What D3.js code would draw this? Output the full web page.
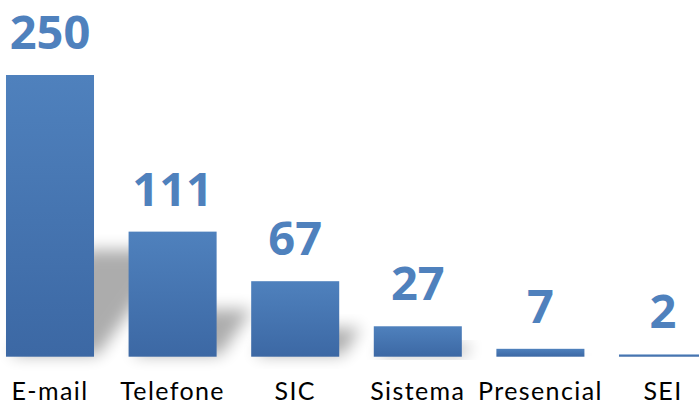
<!DOCTYPE html>
<html>
<head>
<meta charset="utf-8">
<script src="https://cdn.jsdelivr.net/npm/d3@7"></script>
<style>
  body { margin: 0; background: #fff; }
  svg { display: block; }
</style>
</head>
<body>
<div id="chart"></div>
<script>
// Chart data
const categories = ["E-mail", "Telefone", "SIC", "Sistema", "Presencial", "SEI"];
const values = [250, 111, 67, 27, 7, 2];

const width = 699;
const height = 405;
const baseline = 356.7;

const svg = d3.select("#chart")
    .append("svg")
    .attr("width", width)
    .attr("height", height);

const defs = svg.append("defs");

// Vertical gradient for the bars
const grad = defs.append("linearGradient")
    .attr("id", "barGrad")
    .attr("x1", 0).attr("y1", 0)
    .attr("x2", 0).attr("y2", 1);
grad.append("stop").attr("offset", "0%").attr("stop-color", "#4f81bd");
grad.append("stop").attr("offset", "100%").attr("stop-color", "#3c68a4");

// Blur for the perspective shadow
defs.append("filter")
    .attr("id", "shadowBlur")
    .attr("x", "-50%").attr("y", "-50%")
    .attr("width", "200%").attr("height", "200%")
    .append("feGaussianBlur")
    .attr("stdDeviation", 8);

const x = d3.scaleBand()
    .domain(categories)
    .range([-11.3, 724.3])
    .paddingInner(0.282)
    .paddingOuter(0.141);

const y = d3.scaleLinear()
    .domain([0, 250])
    .range([baseline, 75]);

// Shadows, cast to the upper right
svg.append("g")
    .selectAll("polygon")
    .data(values)
    .enter()
    .append("polygon")
    .attr("points", (d, i) => {
        const x0 = x(categories[i]);
        const x1 = x0 + x.bandwidth();
        const h = (baseline - y(d)) * 0.38;
        const dx = h * 0.75;
        return [[x0 + 4, baseline - 2], [x1 + 4, baseline - 2], [x1 + dx, baseline - h], [x0 + dx, baseline - h]].join(" ");
    })
    .attr("fill", "#000")
    .attr("opacity", 0.32)
    .attr("filter", "url(#shadowBlur)");

// Bars
svg.append("g")
    .selectAll("rect")
    .data(values)
    .enter()
    .append("rect")
    .attr("x", (d, i) => x(categories[i]))
    .attr("y", d => y(d))
    .attr("width", x.bandwidth())
    .attr("height", d => baseline - y(d))
    .attr("fill", "url(#barGrad)");

// Value labels
svg.append("g")
    .selectAll("text")
    .data(values)
    .enter()
    .append("text")
    .attr("x", (d, i) => x(categories[i]) + x.bandwidth() / 2)
    .attr("y", d => y(d) - 26)
    .attr("text-anchor", "middle")
    .style("font-family", "'Open Sans', sans-serif")
    .style("font-weight", "bold")
    .style("font-size", "47px")
    .style("fill", "#4f81bd")
    .text(d => d);

// Category labels
svg.append("g")
    .selectAll("text")
    .data(categories)
    .enter()
    .append("text")
    .attr("x", d => x(d) + x.bandwidth() / 2)
    .attr("y", 400)
    .attr("text-anchor", "middle")
    .style("font-family", "Lato, sans-serif")
    .style("font-size", "25px")
    .style("letter-spacing", "1.4px")
    .style("fill", "#000")
    .text(d => d);
</script>
</body>
</html>
